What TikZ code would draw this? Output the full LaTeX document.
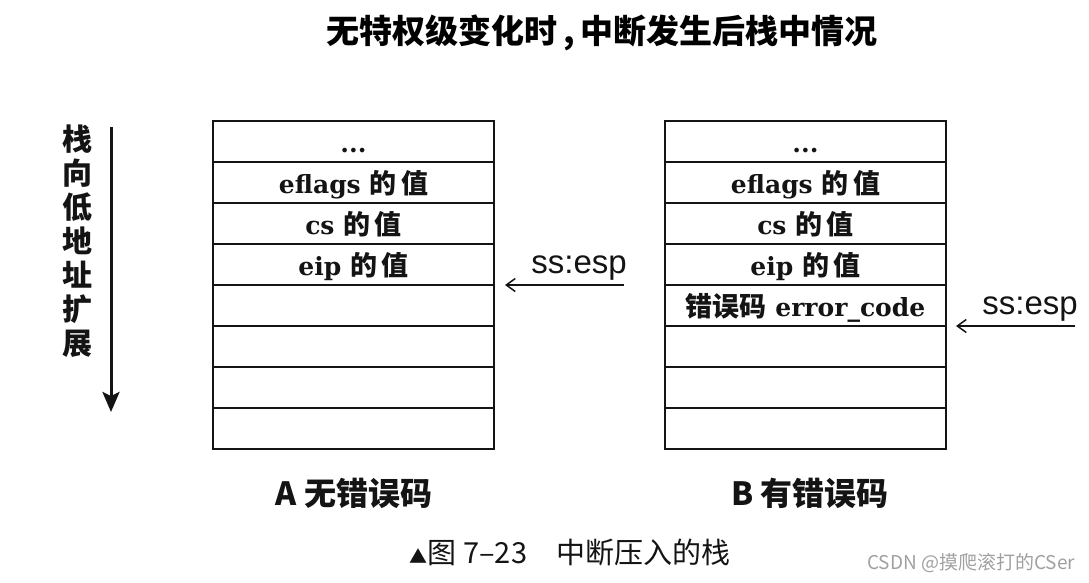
\documentclass[tikz,border=0pt]{standalone}
\usepackage{fontspec}
\usepackage{tikz}
\usetikzlibrary{arrows.meta, positioning}
\setmainfont{DejaVu Serif}
\newfontfamily\cjk{Noto Sans CJK SC}
\newfontfamily\helv{Liberation Sans}
\newcommand{\zhtext}[1]{{\cjk\fontsize{27}{28}\selectfont #1}}
\definecolor{inkblack}{RGB}{20, 20, 20}
\definecolor{markgray}{RGB}{160, 160, 160}
\tikzset{
  stackcell/.style={draw=inkblack, line width=1.5pt, minimum width=281pt, minimum height=41pt,
    inner sep=0pt, outer sep=0pt, text height=22pt, text depth=0pt,
    font=\fontsize{25}{28}\selectfont\bfseries, text=inkblack},
  esparrow/.style={-{Straight Barb[length=9pt, width=13pt]}, line width=1.5pt, inkblack},
  growarrow/.style={-{Stealth[length=20pt, width=17pt, inset=4pt]}, line width=3pt, inkblack},
  esplabel/.style={font=\helv\fontsize{33}{36}\selectfont, text=inkblack, inner sep=0pt},
  caption/.style={font=\cjk\bfseries\fontsize{32}{34}\selectfont, text=inkblack}
}

\begin{document}
\begin{tikzpicture}[x=1pt, y=-1pt]
    \useasboundingbox (0,0) rectangle (1089,582);

    % title
    \node (title) at (602,33) {\cjk\bfseries\fontsize{33}{36}\selectfont 无特权级变化时\,,\,中断发生后栈中情况};

    % growth direction
    \node (growlabel) [align=center, font=\cjk\bfseries\fontsize{30}{34}\selectfont, text=inkblack] at (77,241)
        {栈\\向\\低\\地\\址\\扩\\展};
    \coordinate (growtop) at (111,127);
    \coordinate (growbot) at (111,412);
    \draw[growarrow] (growtop) -- (growbot);

    % stack A
    \node (A1) [stackcell] at (353.5,141.5) {...};
    \node (A2) [stackcell, below=0pt of A1] {eflags \zhtext{的\,值}};
    \node (A3) [stackcell, below=0pt of A2] {cs \zhtext{的\,值}};
    \node (A4) [stackcell, below=0pt of A3] {eip \zhtext{的\,值}};
    \foreach \i [count=\j from 4] in {5,...,8}
        \node (A\i) [stackcell, below=0pt of A\j] {};

    % stack B
    \node (B1) [stackcell] at (805.5,141.5) {...};
    \node (B2) [stackcell, below=0pt of B1] {eflags \zhtext{的\,值}};
    \node (B3) [stackcell, below=0pt of B2] {cs \zhtext{的\,值}};
    \node (B4) [stackcell, below=0pt of B3] {eip \zhtext{的\,值}};
    \node (B5) [stackcell, below=0pt of B4] {\zhtext{错误码} error\_code};
    \foreach \i [count=\j from 5] in {6,...,8}
        \node (B\i) [stackcell, below=0pt of B\j] {};

    % ss:esp pointers
    \coordinate (espA) at ([xshift=130pt]A4.south east);
    \coordinate (espB) at ([xshift=129pt]B5.south east);
    \node (espAlabel) [esplabel, anchor=base east] at ([shift={(3pt,12pt)}]espA) {ss:esp};
    \node (espBlabel) [esplabel, anchor=base east] at ([shift={(3pt,12pt)}]espB) {ss:esp};
    \draw[esparrow] (espA) -- ([xshift=11pt]A4.south east);
    \draw[esparrow] (espB) -- ([xshift=10pt]B5.south east);

    % captions
    \node (capA) [caption] at (354,493) {A 无错误码};
    \node (capB) [caption] at (810,493) {B 有错误码};
    \node (figcap) [font=\cjk\fontsize{29}{30}\selectfont, text=inkblack] at (570,552)
        {{\fontsize{18}{20}\selectfont ▲}图 7–23\quad 中断压入的栈};
    \node (mark) [font=\cjk\fontsize{19}{22}\selectfont, text=markgray] at (971,563) {CSDN @摸爬滚打的CSer};
\end{tikzpicture}
\end{document}
